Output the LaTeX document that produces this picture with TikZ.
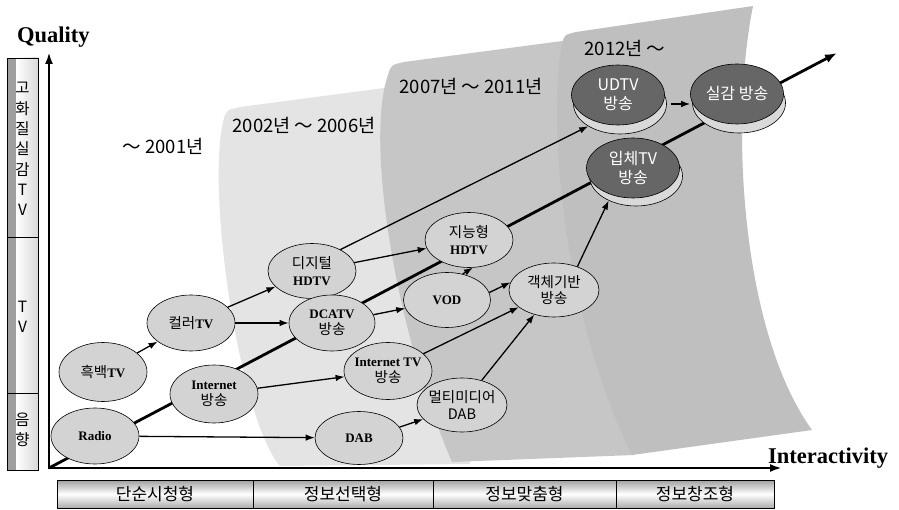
\documentclass[tikz,border=0pt]{standalone}
\usepackage{fontspec}
\setmainfont{Liberation Serif}
\newfontfamily\kr{Noto Sans CJK KR}
\usetikzlibrary{shapes.geometric,arrows.meta}
\definecolor{bandA}{HTML}{E4E4E4}
\definecolor{bandB}{HTML}{C6C6C6}
\definecolor{bandC}{HTML}{BFBFBF}
\definecolor{stagefill}{HTML}{D3D3D3}
\definecolor{futurefill}{HTML}{666666}
\definecolor{rimfill}{HTML}{D9D9D9}
\newcommand\hk[1]{{\kr\fontsize{14.5}{16}\selectfont #1}}

\begin{document}
\begin{tikzpicture}[x=1pt,y=-1pt,
    stage/.style={ellipse,draw,line width=0.6pt,fill=stagefill,minimum width=88pt,minimum height=56pt,
      inner xsep=-6pt,inner ysep=0pt,align=center,font=\fontsize{13}{16.5}\selectfont},
    future/.style={ellipse,draw,line width=0.6pt,fill=futurefill,text=white,minimum width=93pt,minimum height=60pt,
      inner xsep=-8pt,inner ysep=0pt,align=center,font=\kr\fontsize{16}{18.5}\selectfont},
    rim/.style={ellipse,draw,line width=0.6pt,fill=rimfill,minimum width=93pt,minimum height=60pt},
    flow/.style={line width=1.3pt,-{Latex[length=9pt,width=6.5pt]}},
    trend/.style={line width=2.8pt,-{Latex[length=12pt,width=9pt]}},
    axis/.style={line width=2.4pt,{Latex[length=12pt,width=8pt]}-{Latex[length=12pt,width=8pt]}},
    era/.style={font=\kr\fontsize{18.5}{20}\selectfont,anchor=base},
    barlabel/.style={font=\kr\fontsize{15.5}{20.3}\selectfont,align=center,inner sep=0pt},
    phaselabel/.style={font=\kr\fontsize{17}{18}\selectfont},
    axislabel/.style={font=\bfseries\fontsize{22.5}{26}\selectfont,anchor=base west,inner sep=0pt}]
  \useasboundingbox (0,0) rectangle (899,510);
  \fill[white] (0,0) rectangle (899,510);
  % era bands
  \fill[bandA] (280,466) .. controls (240,420) and (205,190) .. (224,118)
    .. controls (227,110) .. (240,107) -- (430,82) -- (470,464) -- cycle;
  \fill[bandB] (452,462) .. controls (395,330) and (365,140) .. (388,75)
    .. controls (391,65) .. (404,62) -- (600,36) -- (634,455) -- cycle;
  \fill[bandC] (632,455) .. controls (560,310) and (548,110) .. (562,45)
    .. controls (564,35) .. (576,32) -- (753,6) .. controls (730,120) and (740,330) .. (812,430) -- cycle;
  % era labels
  \node[era] (era1) at (163,154) {～ 2001년};
  \node[era] (era2) at (304,133) {2002년 ～ 2006년};
  \node[era] (era3) at (471,94) {2007년 ～ 2011년};
  \node[era] (era4) at (625,56) {2012년 ～};
  % axes and trend
  \coordinate (origin) at (49,468);
  \coordinate (ytip) at (49,52);
  \coordinate (xtip) at (782,468);
  \coordinate (trendtip) at (837,53);
  \draw[trend] (origin) -- (trendtip);
  \draw[axis] (ytip) -- (origin) -- (xtip);
  \node[axislabel] (quality) at (17,43) {Quality};
  \node[axislabel] (interactivity) at (768,463) {Interactivity};
  % left bar
  \fill[gray!75] (7,58) rectangle (16,470);
  \shade[left color=white, right color=gray!30] (16,58) rectangle (38,470);
  \draw[line width=0.6pt] (7,58) rectangle (38,470);
  \foreach \y in {237,393} \draw[line width=0.6pt] (7,\y) -- (38,\y);
  \node[barlabel] (hqtv) at (22.5,149) {고\\화\\질\\실\\감\\T\\V};
  \node[barlabel] (tv) at (22.5,317) {T\\V};
  \node[barlabel] (audio) at (22.5,430) {음\\향};
  % bottom bar
  \shade[top color=gray!75, bottom color=gray!65, middle color=white] (57,480) rectangle (774,508);
  \draw[line width=0.6pt] (57,480) rectangle (774,508);
  \foreach \x in {253,433,616} \draw[line width=0.6pt] (\x,480) -- (\x,508);
  \node[phaselabel] (watch) at (155,494) {단순시청형};
  \node[phaselabel] (select) at (343,494) {정보선택형};
  \node[phaselabel] (custom) at (524.5,494) {정보맞춤형};
  \node[phaselabel] (create) at (695,494) {정보창조형};
  % stages
  \node[stage] (radio) at (95,436) {\textbf{Radio}};
  \node[stage,minimum height=59pt] (bwtv) at (103,372) {\hk{흑백}\textbf{TV}};
  \node[stage] (colortv) at (191,323) {\hk{컬러}\textbf{TV}};
  \node[stage,minimum height=58pt] (inetcast) at (214,394) {\textbf{Internet}\\\hk{방송}};
  \node[stage,minimum height=55pt] (dhdtv) at (312,271) {\hk{디지털}\\\textbf{HDTV}};
  \node[stage,minimum width=86pt] (dcatv) at (332,323) {\textbf{DCATV}\\\hk{방송}};
  \node[stage,minimum height=53pt] (dab) at (359,438) {\textbf{DAB}};
  \node[stage,minimum height=57pt] (inettv) at (388,371) {\textbf{Internet TV}\\\hk{방송}};
  \node[stage,minimum width=87pt,minimum height=55pt] (vod) at (447,300) {\textbf{VOD}};
  \node[stage,minimum height=55pt] (ihdtv) at (469,240) {\hk{지능형}\\\textbf{HDTV}};
  \node[stage,minimum width=90pt,minimum height=54pt] (mdab) at (462,405) {\hk{멀티미디어}\\\hk{DAB}};
  \node[stage,minimum width=90pt,minimum height=54pt] (objcast) at (554,290) {\hk{객체기반}\\\hk{방송}};
  \node[rim] (udtvrim) at (620,104) {};
  \node[future] (udtv) at (618,95) {UDTV\\방송};
  \node[rim] (stereorim) at (636,176) {};
  \node[future] (stereo) at (633,168) {입체TV\\방송};
  \node[rim] (realrim) at (739,103) {};
  \node[future] (real) at (737,94) {실감 방송};
  % transitions
  \draw[flow] (bwtv) -- (colortv);
  \draw[flow] (colortv) -- (dhdtv);
  \draw[flow] (colortv) -- (dcatv);
  \draw[flow] (dcatv) -- (vod);
  \draw[flow] (dhdtv) -- (ihdtv);
  \draw[flow] (dhdtv.37) -- (udtvrim.215);
  \draw[flow] (vod.59) -- (ihdtv.278);
  \draw[flow] (vod.10) -- (objcast.170);
  \draw[flow] (inetcast) -- (inettv);
  \draw[flow] (inettv) -- (objcast);
  \draw[flow] (radio) -- (dab);
  \draw[flow] (dab.15) -- (mdab.200);
  \draw[flow] (mdab) -- (objcast);
  \draw[flow] (objcast.45) -- (stereorim.222);
  \draw[flow] ([xshift=4pt]udtvrim.east) -- (real.west |- udtvrim.east);
\end{tikzpicture}
\end{document}
